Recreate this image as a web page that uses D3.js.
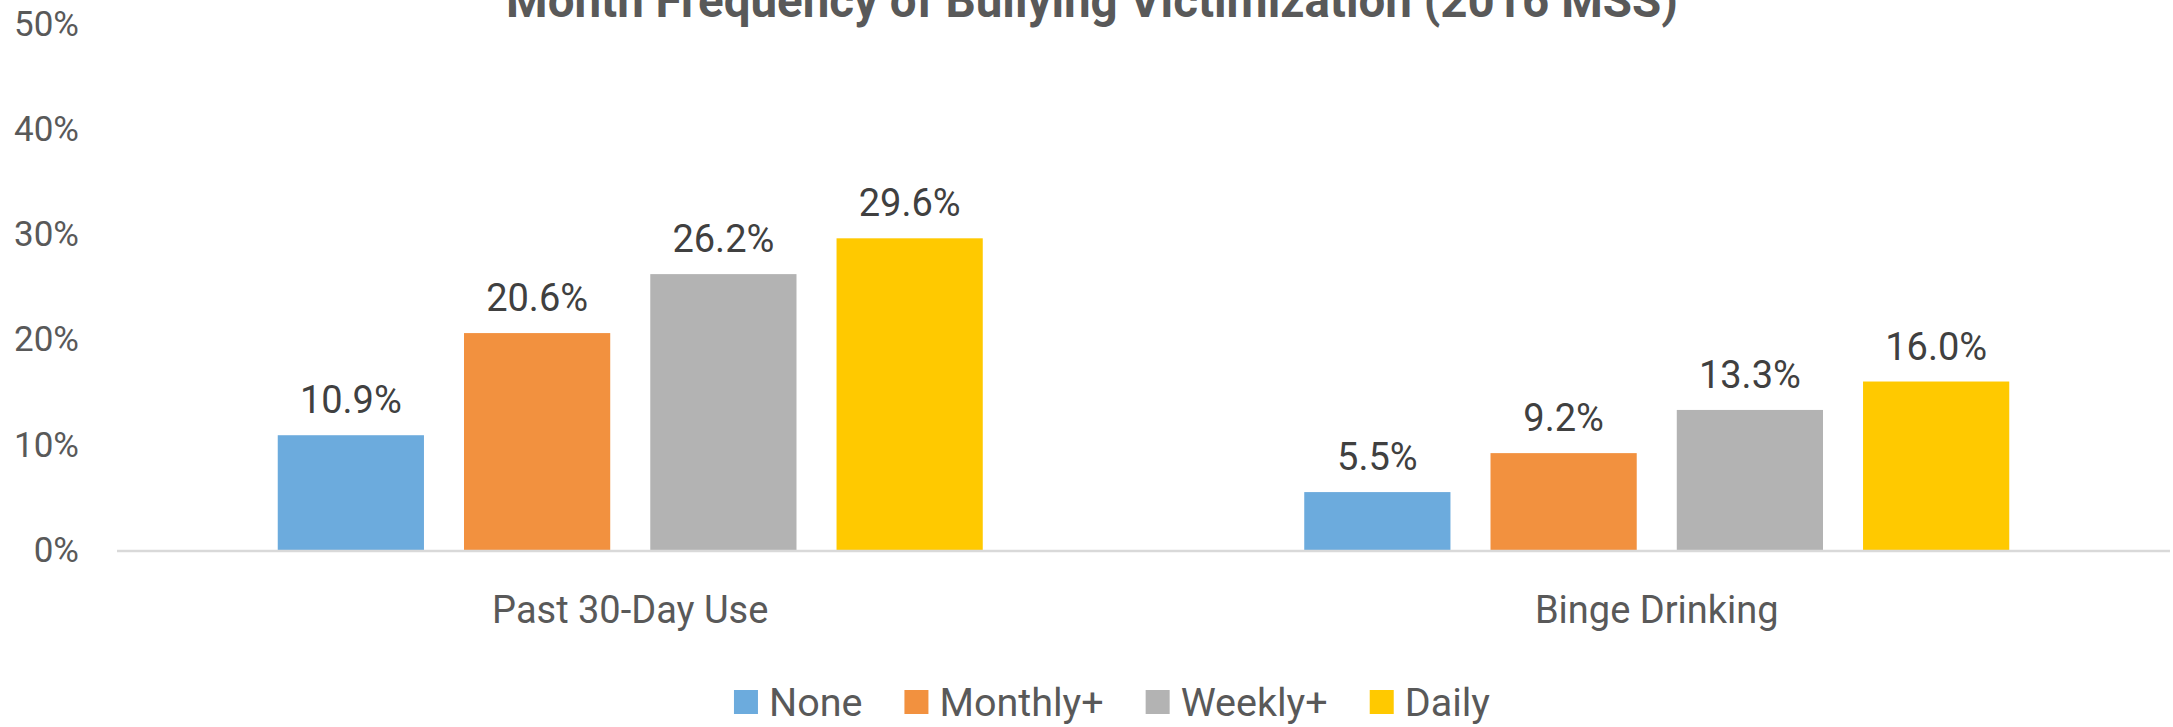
<!DOCTYPE html>
<html>
<head>
<meta charset="utf-8">
<script src="https://cdn.jsdelivr.net/npm/d3@7"></script>
<style>
    html, body { margin: 0; padding: 0; background: #fff; overflow: hidden; }
    svg { display: block; font-family: Roboto, "Open Sans", sans-serif; }
</style>
</head>
<body>
<div class="content"></div>
<script>
var categories = ["Past 30-Day Use", "Binge Drinking"];
var seriesNames = ["None", "Monthly+", "Weekly+", "Daily"];
var noneValues = [10.9, 5.5];
var monthlyValues = [20.6, 9.2];
var weeklyValues = [26.2, 13.3];
var dailyValues = [29.6, 16.0];
var yTicks = [0, 10, 20, 30, 40, 50];
var titleText = "Month Frequency of Bullying Victimization (2016 MSS)";

(function (window) {
    'use strict';
    var width = 2173, height = 727,
        options = {
            colors: ["#6CABDD", "#F2913F", "#B3B3B3", "#FFC900"],
            textColor: "#595959",
            labelColor: "#404040",
            axisColor: "#D9D9D9"
        },
        svg, x0, x1, y, rows, legend, legendX;

    rows = categories.map(function (c, i) {
        return {
            category: c,
            values: [noneValues[i], monthlyValues[i], weeklyValues[i], dailyValues[i]]
        };
    });

    svg = d3.select(".content").append("svg")
        .attr("width", width)
        .attr("height", height);

    x0 = d3.scaleBand().domain(categories).range([117, 2170]);
    x1 = d3.scaleBand().domain(seriesNames)
        .range([0, x0.bandwidth()])
        .paddingInner(0.215)
        .paddingOuter(0.863);
    y = d3.scaleLinear().domain([0, 50]).range([550, 23.5]);

    // title, cut off at the top like the original
    svg.append("text")
        .attr("x", 1092)
        .attr("y", 17)
        .attr("text-anchor", "middle")
        .attr("font-size", "47.5px")
        .attr("font-weight", "bold")
        .attr("fill", options.textColor)
        .text(titleText);

    // y axis labels (no gridlines)
    svg.append("g").selectAll("text")
        .data(yTicks)
        .enter().append("text")
        .attr("x", 79)
        .attr("y", function (d) { return y(d) + 12; })
        .attr("text-anchor", "end")
        .attr("font-size", "35px")
        .attr("fill", options.textColor)
        .text(function (d) { return d + "%"; });

    // bars
    var groups = svg.append("g").selectAll("g.group")
        .data(rows)
        .enter().append("g")
        .attr("class", "group")
        .attr("transform", function (d) { return "translate(" + x0(d.category) + ",0)"; });

    groups.selectAll("rect")
        .data(function (d) { return d.values; })
        .enter().append("rect")
        .attr("x", function (d, i) { return x1(seriesNames[i]); })
        .attr("y", function (d) { return y(d); })
        .attr("width", x1.bandwidth())
        .attr("height", function (d) { return y(0) - y(d); })
        .attr("fill", function (d, i) { return options.colors[i]; });

    groups.selectAll("text")
        .data(function (d) { return d.values; })
        .enter().append("text")
        .attr("x", function (d, i) { return x1(seriesNames[i]) + x1.bandwidth() / 2; })
        .attr("y", function (d) { return y(d) - 22; })
        .attr("text-anchor", "middle")
        .attr("font-size", "38px")
        .attr("fill", options.labelColor)
        .text(function (d) { return d.toFixed(1) + "%"; });

    // x axis line and category labels
    svg.append("line")
        .attr("x1", 117)
        .attr("x2", 2170)
        .attr("y1", y(0) + 1)
        .attr("y2", y(0) + 1)
        .attr("stroke", options.axisColor)
        .attr("stroke-width", 2.5);

    svg.append("g").selectAll("text")
        .data(categories)
        .enter().append("text")
        .attr("x", function (d) { return x0(d) + x0.bandwidth() / 2; })
        .attr("y", 623)
        .attr("text-anchor", "middle")
        .attr("font-size", "38px")
        .attr("fill", options.textColor)
        .text(function (d) { return d; });

    // legend: square, text, then gap to the next item
    legend = svg.append("g");
    legendX = 0;
    seriesNames.forEach(function (name, i) {
        var item = legend.append("g").attr("transform", "translate(" + legendX + ",0)"), txt;
        item.append("rect")
            .attr("x", 0)
            .attr("y", 690)
            .attr("width", 24)
            .attr("height", 24)
            .attr("fill", options.colors[i]);
        txt = item.append("text")
            .attr("x", 35)
            .attr("y", 716)
            .attr("font-size", "39.5px")
            .attr("fill", options.textColor)
            .text(name);
        legendX += 35 + txt.node().getComputedTextLength() + 42;
    });
    legendX -= 42;
    legend.attr("transform", "translate(" + (1112 - legendX / 2) + ",0)");
}(window));
</script>
</body>
</html>
